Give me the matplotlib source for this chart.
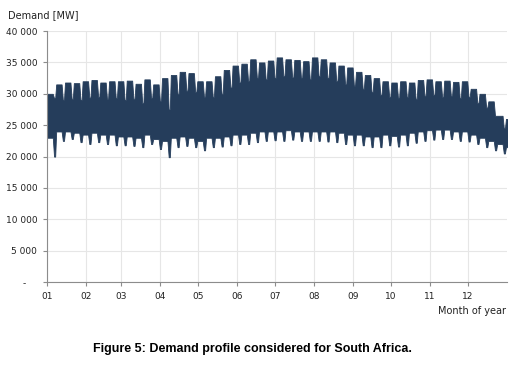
import matplotlib.pyplot as plt
from matplotlib.ticker import FuncFormatter

# weekly values (MW), week k starts on day 7k
peak_weekday = [30000, 31500, 31800, 31700, 32000, 32200, 31800, 32000, 32000,
                32100, 31600, 32300, 31500, 32500, 33000, 33500, 33300, 32000,
                32000, 32800, 33800, 34500, 34800, 35500, 35000, 35300, 35800,
                35500, 35400, 35200, 35800, 35500, 35000, 34500, 34200, 33500,
                33000, 32500, 32000, 31800, 32000, 31800, 32200, 32300, 32000,
                32100, 31900, 32000, 30800, 30000, 28800, 26500, 26000]
peak_weekend = [29300, 29000, 29200, 29000, 29400, 29500, 29200, 29300, 29000,
                29200, 28500, 29300, 28800, 27500, 30000, 30500, 30300, 29500,
                29500, 30000, 31000, 31800, 32000, 32500, 32300, 32500, 32800,
                32600, 32500, 32300, 32800, 32500, 32000, 31500, 31300, 30800,
                30300, 29800, 29500, 29300, 29500, 29200, 29700, 29800, 29500,
                29600, 29300, 29500, 28500, 27800, 26500, 24500, 25500]
low_weekday = [23000, 24000, 24000, 23800, 23500, 23800, 23500, 23500, 23200,
               23200, 23000, 23500, 22800, 22500, 23000, 23200, 23000, 22500,
               23000, 23000, 23200, 23500, 23500, 23800, 24000, 24000, 24000,
               24200, 24000, 24000, 24000, 24000, 24000, 23800, 23500, 23500,
               23200, 23200, 23500, 23300, 23500, 23800, 24000, 24200, 24300,
               24300, 24000, 24000, 23500, 23000, 22500, 22000, 21500]
low_weekend = [20000, 22500, 22800, 22300, 22000, 22300, 22000, 21800, 21800,
               21700, 21500, 22000, 21200, 19900, 21500, 21700, 21500, 21000,
               21500, 21600, 21800, 22000, 22000, 22300, 22500, 22600, 22500,
               22700, 22500, 22500, 22500, 22400, 22300, 22000, 21800, 21800,
               21500, 21500, 21800, 21600, 21800, 22200, 22500, 22700, 22800,
               22800, 22500, 22400, 22000, 21500, 21000, 20500, 19300]

month_labels = ['01', '02', '03', '04', '05', '06', '07', '08', '09', '10', '11', '12']
month_start = [0, 31, 59, 90, 120, 151, 181, 212, 243, 273, 304, 334]

# weekday plateau then weekend dip for every week
x = []
upper = []
lower = []
for k in range(len(peak_weekday)):
    x += [7 * k + 0.3, 7 * k + 4.6, 7 * k + 5.6, 7 * k + 6.5]
    upper += [peak_weekday[k], peak_weekday[k], peak_weekend[k], peak_weekend[k]]
    lower += [low_weekday[k], low_weekday[k], low_weekend[k], low_weekend[k]]

fig = plt.figure(figsize=(5.31, 3.65), dpi=100)
ax = fig.add_axes([0.0885, 0.227, 0.866, 0.688])

ax.fill_between(x, lower, upper, color='#253d5b', linewidth=0.6, edgecolor='#253d5b')

ax.set_xlim(0, 365)
ax.set_ylim(0, 40000)
ax.set_yticks(range(0, 40001, 5000))
ax.set_xticks(month_start)
ax.set_xticklabels(month_labels)

def fmt(v, pos):
    if v == 0:
        return '-    '
    return '{:,.0f}'.format(v).replace(',', ' ')

ax.yaxis.set_major_formatter(FuncFormatter(fmt))
ax.grid(True, color='#e6e6e6', linewidth=0.8)
ax.set_axisbelow(True)
for s in ['top', 'right']:
    ax.spines[s].set_visible(False)
for s in ['left', 'bottom']:
    ax.spines[s].set_color('#8c8c8c')
    ax.spines[s].set_linewidth(0.8)
ax.tick_params(axis='both', length=3, color='#8c8c8c', labelsize=6.5, labelcolor='#222222')
ax.tick_params(axis='y', pad=4)
ax.tick_params(axis='x', pad=4)

fig.text(0.015, 0.958, 'Demand [MW]', fontsize=7, color='#222222', va='center')
fig.text(0.952, 0.148, 'Month of year', fontsize=7, color='#222222', ha='right', va='center')
fig.text(0.475, 0.044, 'Figure 5: Demand profile considered for South Africa.',
         fontsize=9, fontweight='bold', family='Liberation Sans', ha='center', va='center')

plt.savefig('out.png', dpi=100)
